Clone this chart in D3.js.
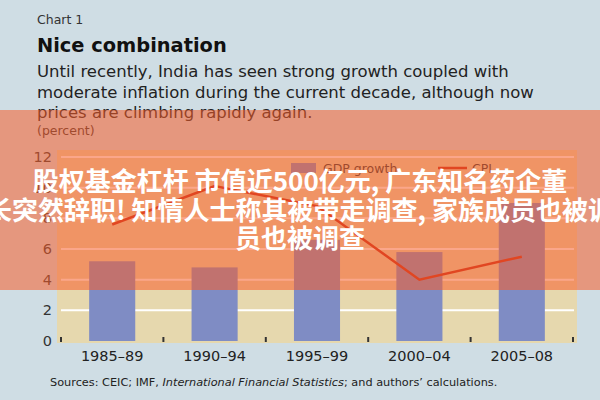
<!DOCTYPE html>
<html><head><meta charset="utf-8">
<script src="https://cdn.jsdelivr.net/npm/d3@7"></script>
<style>body{margin:0;background:#cfdde4;} svg{display:block;}</style>
</head><body>
<script>
const categories = ["1985\u201389","1990\u201394","1995\u201399","2000\u201304","2005\u201308"];
const gdpGrowth = [5.2, 4.8, 6.6, 5.8, 9.0];
const cpi = [7.6, 10.1, 8.8, 4.0, 5.5];
const yTicks = [0, 2, 4, 6, 8, 10, 12];
const overlayLines = [
  "股权基金杠杆 市值近500亿元, 广东知名药企董",
  "长突然辞职! 知情人士称其被带走调查, 家族成员也被调",
  "员也被调查"
];

const W = 600, H = 400;
const font = "'DejaVu Sans', 'Liberation Sans', sans-serif";
const svg = d3.select("body").append("svg").attr("width", W).attr("height", H);
svg.append("rect").attr("width", W).attr("height", H).attr("fill", "#cfdde4");

// header texts
svg.append("text").attr("x", 37).attr("y", 24).attr("font-family", font).attr("font-size", 12.5).attr("fill", "#333").text("Chart 1");
svg.append("text").attr("x", 37).attr("y", 52).attr("font-family", font).attr("font-size", 19.4).attr("font-weight", "bold").attr("fill", "#111").text("Nice combination");
const sub = ["Until recently, India has seen strong growth coupled with",
             "moderate inflation during the current decade, although now",
             "prices are climbing rapidly again."];
sub.forEach((s, i) => svg.append("text").attr("x", 37).attr("y", 77 + i * 20.5)
  .attr("font-family", font).attr("font-size", 16.5).attr("fill", "#222").text(s));
svg.append("text").attr("x", 37).attr("y", 135).attr("font-family", font).attr("font-size", 12.5).attr("fill", "#333").text("(percent)");

// scales
const x = d3.scaleBand().domain(categories).range([61, 573]).paddingInner(0.55).paddingOuter(0.275);
const y = d3.scaleLinear().domain([0, 12]).range([341, 157]);

// plot area
svg.append("rect").attr("x", 57).attr("y", 150).attr("width", 520).attr("height", 193).attr("fill", "#e6d8ae");

// gridlines
svg.append("g").selectAll("line").data(yTicks.filter(d => d > 0)).join("line")
  .attr("x1", 61).attr("x2", 574).attr("y1", d => y(d)).attr("y2", d => y(d))
  .attr("stroke", "#ffffff").attr("stroke-width", 2);

// y labels
svg.append("g").selectAll("text").data(yTicks).join("text")
  .attr("x", 52).attr("y", d => y(d) + 5).attr("text-anchor", "end")
  .attr("font-family", font).attr("font-size", 14.5).attr("fill", "#333").text(d => d);

// bars
svg.append("g").selectAll("rect").data(gdpGrowth).join("rect")
  .attr("x", (d, i) => x(categories[i])).attr("width", x.bandwidth())
  .attr("y", d => y(d)).attr("height", d => y(0) - y(d)).attr("fill", "#7f8cc4");

// category boundary ticks
const [r0, r1] = x.range();
const bnd = d3.range(categories.length + 1).map(i => r0 + i * ((r1 - r0) / categories.length));
svg.append("g").selectAll("line").data(bnd).join("line")
  .attr("x1", d => d).attr("x2", d => d).attr("y1", 337).attr("y2", 342)
  .attr("stroke", "#333").attr("stroke-width", 2);

// x labels
svg.append("g").selectAll("text").data(categories).join("text")
  .attr("x", d => x(d) + x.bandwidth() / 2).attr("y", 361).attr("text-anchor", "middle")
  .attr("font-family", font).attr("font-size", 14.5).attr("fill", "#222").text(d => d);

// CPI line
const line = d3.line().x((d, i) => x(categories[i]) + x.bandwidth() / 2).y(d => y(d));
svg.append("path").datum(cpi).attr("d", line).attr("fill", "none")
  .attr("stroke", "#c62a18").attr("stroke-width", 2.5);

// legend
svg.append("rect").attr("x", 291).attr("y", 163).attr("width", 25).attr("height", 10).attr("fill", "#7f8cc4");
svg.append("text").attr("x", 323).attr("y", 173).attr("font-family", font).attr("font-size", 12.5).attr("fill", "#333").text("GDP growth");
svg.append("line").attr("x1", 438).attr("x2", 467).attr("y1", 168).attr("y2", 168).attr("stroke", "#c62a18").attr("stroke-width", 2.5);
svg.append("text").attr("x", 472).attr("y", 173).attr("font-family", font).attr("font-size", 12.5).attr("fill", "#333").text("CPI");

// sources
const src = svg.append("text").attr("x", 50).attr("y", 386).attr("font-family", font).attr("font-size", 11.3).attr("fill", "#222");
src.append("tspan").text("Sources: CEIC; IMF, ");
src.append("tspan").attr("font-style", "italic").text("International Financial Statistics");
src.append("tspan").text("; and authors\u2019 calculations.");

// overlay band
svg.append("rect").attr("x", 0).attr("y", 110).attr("width", W).attr("height", 180).attr("fill", "rgba(248,92,42,0.55)");
overlayLines.forEach((s, i) => svg.append("text").attr("x", 300).attr("y", 191 + i * 28.5)
  .attr("text-anchor", "middle").attr("font-family", "'Noto Sans CJK SC', sans-serif")
  .attr("font-size", 26).attr("font-weight", "bold").attr("fill", "#ffffff").text(s));
</script>
</body></html>
